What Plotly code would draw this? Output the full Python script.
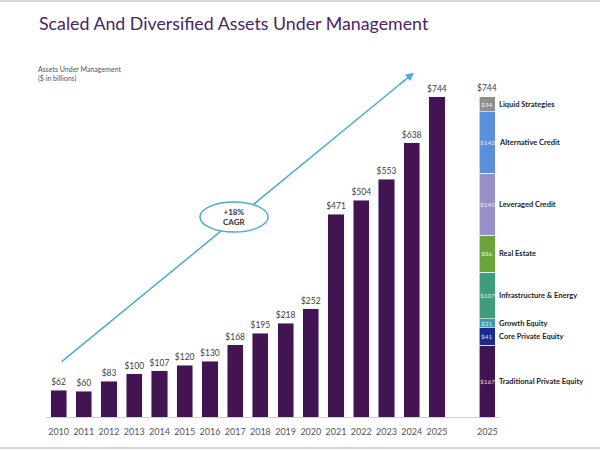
import plotly.graph_objects as go

years = ["2010","2011","2012","2013","2014","2015","2016","2017","2018","2019",
         "2020","2021","2022","2023","2024","2025"]
aum = [62, 60, 83, 100, 107, 120, 130, 168, 195, 218, 252, 471, 504, 553, 638, 744]

seg_names = ["Traditional Private Equity", "Core Private Equity", "Growth Equity",
             "Infrastructure & Energy", "Real Estate", "Leveraged Credit",
             "Alternative Credit", "Liquid Strategies"]
seg_values = [167, 41, 21, 107, 86, 145, 143, 34]
seg_colors = ["#3f1451", "#1b2a8c", "#3a9aa6", "#3e9c7c", "#6aa33a", "#9a90c8",
              "#5b8fdc", "#8e8e8e"]

BAR_COLOR = "#421552"
n = len(years)
xs = list(range(n))
stack_x = n + 1

fig = go.Figure()
fig.add_trace(go.Bar(
    x=xs, y=aum, marker_color=BAR_COLOR, width=0.64,
    text=[f"${v}" for v in aum], textposition="outside", constraintext="none",
    textfont=dict(size=8.5, color="#404040", family="Lato"),
    cliponaxis=False, showlegend=False, hoverinfo="skip"))

annotations = []
cum = 0
for name, val, col in zip(seg_names, seg_values, seg_colors):
    fig.add_trace(go.Bar(x=[stack_x], y=[val], marker_color=col, width=0.64,
                         marker_line=dict(color="white", width=0.6),
                         showlegend=False, hoverinfo="skip"))
    mid = cum + val / 2
    annotations.append(dict(x=stack_x, y=mid, xref="x", yref="y", text=f"${val}",
                            showarrow=False, font=dict(size=6.5, color="rgba(255,255,255,0.85)", family="Lato")))
    annotations.append(dict(x=stack_x + 0.38, y=mid, xref="x", yref="y", text=f"<b>{name}</b>",
                            xanchor="left", showarrow=False,
                            font=dict(size=7.5, color="#222222", family="Lato")))
    cum += val
annotations.append(dict(x=stack_x, y=cum, xref="x", yref="y", text=f"${cum}", yanchor="bottom",
                        yshift=2, showarrow=False, font=dict(size=8.5, color="#404040", family="Lato")))

# plot area geometry in px for paper conversions
L, R, T, B = 46, 100, 60, 33
PW, PH = 600 - L - R, 450 - T - B
def px(xp): return (xp - L) / PW
def py(yp): return (450 - B - yp) / PH

# title and subtitle
annotations.append(dict(x=px(37), y=py(23), xref="paper", yref="paper", xanchor="left", yanchor="middle",
                        text="Scaled And Diversified Assets Under Management", showarrow=False,
                        font=dict(size=17.8, color="#4a2465", family="Lato")))
annotations.append(dict(x=px(36), y=py(63), xref="paper", yref="paper", xanchor="left", yanchor="top",
                        text="Assets Under Management<br>($ in billions)", showarrow=False, align="left",
                        font=dict(size=7, color="#555555", family="Lato")))

# arrowhead
annotations.append(dict(x=px(414), y=py(72.7), xref="paper", yref="paper", ax=-16, ay=13,
                        text="", showarrow=True, arrowhead=2, arrowsize=1.1, arrowwidth=1.5,
                        arrowcolor="#4aabd4"))
# CAGR text
annotations.append(dict(x=px(234), y=py(217), xref="paper", yref="paper",
                        text="<b>+18%<br>CAGR</b>", showarrow=False,
                        font=dict(size=8, color="#333333", family="Lato")))

shapes = [
    dict(type="line", xref="paper", yref="paper", x0=px(61.7), y0=py(361.7), x1=px(405), y1=py(80),
         line=dict(color="#4aabd4", width=1.5)),
    dict(type="circle", xref="paper", yref="paper", x0=px(200), x1=px(268), y0=py(232), y1=py(202),
         fillcolor="white", line=dict(color="#4aabd4", width=1.5)),
    dict(type="line", xref="paper", yref="paper", x0=px(0), x1=px(600), y0=py(1), y1=py(1),
         line=dict(color="#d6d6d6", width=2)),
    dict(type="line", xref="paper", yref="paper", x0=px(0), x1=px(600), y0=py(448), y1=py(448),
         line=dict(color="#d6d6d6", width=2)),
]

fig.update_layout(
    width=600, height=450, barmode="stack",
    margin=dict(l=L, r=R, t=T, b=B),
    plot_bgcolor="white", paper_bgcolor="white",
    annotations=annotations, shapes=shapes,
    xaxis=dict(range=[-0.5, stack_x + 0.5], tickmode="array",
               tickvals=xs + [stack_x], ticktext=years + [years[-1]],
               showline=True, linecolor="#d0d0d0", linewidth=1, showgrid=False, zeroline=False,
               ticks="", tickfont=dict(size=9, color="#555555", family="Lato"), ticklabelstandoff=6),
    yaxis=dict(range=[0, 830], visible=False, showgrid=False),
    font=dict(family="Lato"),
)

fig.write_html("out.html")
